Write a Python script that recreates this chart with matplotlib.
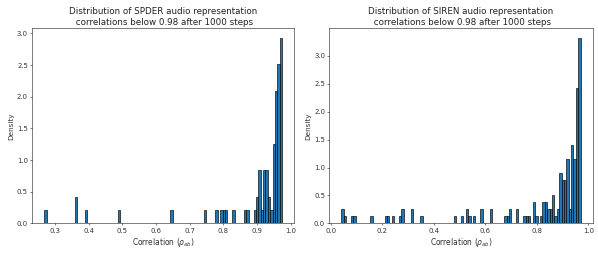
import numpy as np
import matplotlib
matplotlib.use("Agg")
import matplotlib.pyplot as plt

# ---- data (bin centres and counts) ----
spder_corr = [0.272, 0.364, 0.392, 0.491, 0.646, 0.745, 0.780, 0.794, 0.801, 0.808,
              0.830, 0.865, 0.872, 0.894, 0.901, 0.908, 0.915, 0.922, 0.929, 0.936,
              0.943, 0.950, 0.957, 0.964, 0.971]
spder_count = [1, 2, 1, 1, 1, 1, 1, 1, 1, 1,
               1, 1, 1, 1, 2, 4, 1, 4, 4, 2,
               1, 6, 10, 12, 14]
spder_range = (0.2682, 0.9747)
spder_unit_density = 0.2096

siren_corr = [0.0464, 0.0557, 0.0836, 0.0928, 0.1578, 0.2135, 0.2228, 0.2413, 0.2692,
              0.2784, 0.3156, 0.3527, 0.4826, 0.5104, 0.5290, 0.5383, 0.5568, 0.5847,
              0.6218, 0.6775, 0.6868, 0.6960, 0.7239, 0.7517, 0.7610, 0.7703, 0.7889,
              0.7981, 0.8167, 0.8260, 0.8352, 0.8445, 0.8538, 0.8631, 0.8723, 0.8816,
              0.8909, 0.9002, 0.9094, 0.9187, 0.9280, 0.9373, 0.9466, 0.9558, 0.9651]
siren_count = [2, 1, 1, 1, 1, 1, 1, 1, 1,
               2, 2, 1, 1, 1, 2, 1, 1, 2,
               2, 1, 1, 2, 2, 1, 1, 1, 3,
               1, 1, 3, 3, 2, 2, 4, 1, 2,
               7, 6, 6, 9, 2, 11, 9, 19, 26]
siren_range = (0.0418, 0.9698)
siren_unit_density = 0.128

n_bins = 100
titles = ["Distribution of SPDER audio representation\n correlations below 0.98 after 1000 steps",
          "Distribution of SIREN audio representation\n correlations below 0.98 after 1000 steps"]
xlabel = r"Correlation ($\rho_{ab}$)"
ylabel = "Density"

DPI = 45
fig = plt.figure(figsize=(598 / DPI, 261 / DPI), dpi=DPI)
ax1 = fig.add_axes([0.054, 0.1444, 0.4376, 0.7472])
ax2 = fig.add_axes([0.551, 0.1444, 0.440, 0.7472])

for ax, corr, cnt, rng, unit, title in [
    (ax1, spder_corr, spder_count, spder_range, spder_unit_density, titles[0]),
    (ax2, siren_corr, siren_count, siren_range, siren_unit_density, titles[1]),
]:
    ax.hist(corr, bins=n_bins, range=rng, weights=np.array(cnt) * unit,
            color="#1f77b4", edgecolor="black", linewidth=1.0)
    ax.set_title(title, fontsize=14, color="#222222")
    ax.set_xlabel(xlabel, fontsize=12, color="#333333")
    ax.set_ylabel(ylabel, fontsize=11.5, color="#333333")
    ax.tick_params(labelsize=11, labelcolor="#333333")

fig.savefig("out.png", dpi=DPI)
